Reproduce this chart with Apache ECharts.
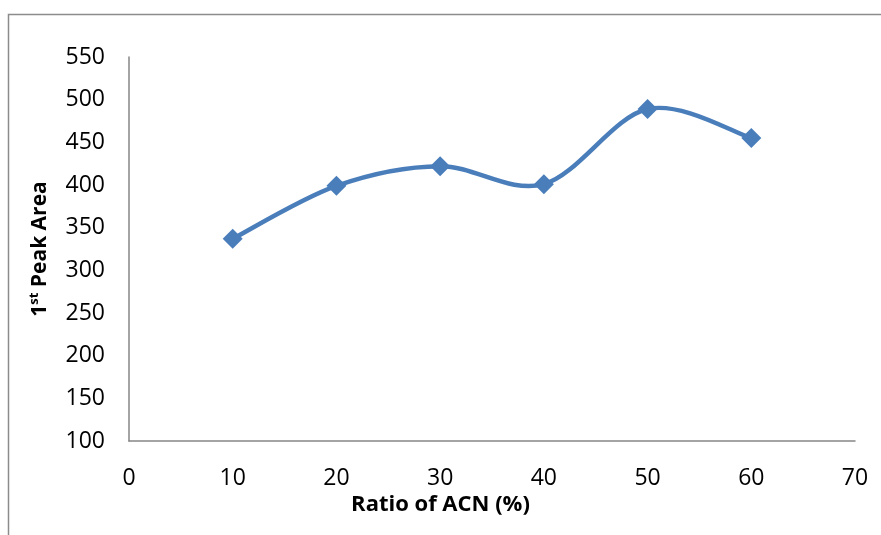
<!DOCTYPE html>
<html>
<head>
<meta charset="utf-8">
<script src="https://cdn.jsdelivr.net/npm/echarts@6/dist/echarts.min.js"></script>
<style>
html,body{margin:0;padding:0;background:#fff;}
#chart{width:881px;height:535px;}
</style>
</head>
<body>
<div id="chart"></div>
<script>
const ratioACN = [10, 20, 30, 40, 50, 60];
const peakArea = [337, 399, 422, 401, 489, 455];
const xTicks = [0, 10, 20, 30, 40, 50, 60, 70];
const yTicks = [100, 150, 200, 250, 300, 350, 400, 450, 500, 550];

const FONT = '"Open Sans", sans-serif';
const COLOR = '#4a7ebb';
const points = ratioACN.map((x, i) => [x, peakArea[i]]);

// Spreadsheet-style smoothed segment (Catmull-Rom as cubic Bezier) between data points i and i+1
function renderSegment(params, api) {
  const i = params.dataIndex;
  const n = ratioACN.length;
  if (i >= n - 1) return null;
  const c = j => {
    const k = Math.max(0, Math.min(n - 1, j));
    return api.coord([ratioACN[k], peakArea[k]]);
  };
  const p0 = c(i - 1), p1 = c(i), p2 = c(i + 1), p3 = c(i + 2);
  const t = 1 / 6;
  return {
    type: 'bezierCurve',
    shape: {
      x1: p1[0], y1: p1[1],
      cpx1: p1[0] + (p2[0] - p0[0]) * t, cpy1: p1[1] + (p2[1] - p0[1]) * t,
      cpx2: p2[0] - (p3[0] - p1[0]) * t, cpy2: p2[1] - (p3[1] - p1[1]) * t,
      x2: p2[0], y2: p2[1]
    },
    style: { stroke: COLOR, lineWidth: 4.5, fill: null, lineCap: 'round' },
    silent: true
  };
}

const chart = echarts.init(document.getElementById('chart'));
chart.setOption({
  backgroundColor: '#fff',
  animation: false,
  grid: { left: 129, right: 26, top: 57, bottom: 94 },
  graphic: [
    { type: 'rect', shape: { x: 8.5, y: 14.5, width: 1000, height: 1000 },
      style: { fill: 'none', stroke: '#8c8c8c', lineWidth: 1.5 }, silent: true, z: -1 },
    { type: 'text', left: 'center', top: 494,
      style: { text: 'Ratio of ACN (%)', font: 'bold 22px ' + FONT, fill: '#000' } }
  ],
  xAxis: {
    type: 'value', min: xTicks[0], max: xTicks[xTicks.length - 1], interval: 10,
    axisLine: { show: true, lineStyle: { color: '#868686', width: 1.5 } },
    axisTick: { show: false },
    splitLine: { show: false },
    axisLabel: { color: '#000', fontSize: 23, fontFamily: FONT, margin: 26 }
  },
  yAxis: {
    type: 'value', min: yTicks[0], max: yTicks[yTicks.length - 1], interval: 50,
    axisLine: { show: true, lineStyle: { color: '#868686', width: 1.5 } },
    axisTick: { show: false },
    splitLine: { show: false },
    axisLabel: { color: '#000', fontSize: 23, fontFamily: FONT, margin: 24 },
    name: '{n|1}{s|st}{n| Peak Area}',
    nameLocation: 'middle', nameRotate: 90, nameGap: 78,
    nameTextStyle: {
      rich: {
        n: { fontSize: 21, fontWeight: 'bold', fontFamily: FONT, color: '#000', verticalAlign: 'bottom' },
        s: { fontSize: 13, fontWeight: 'bold', fontFamily: FONT, color: '#000', verticalAlign: 'top', padding: [0, 0, 10, 0] }
      }
    }
  },
  series: [
    {
      type: 'custom',
      data: points,
      renderItem: renderSegment,
      z: 2
    },
    {
      type: 'line',
      data: points,
      symbol: 'diamond',
      symbolSize: 20,
      lineStyle: { width: 0, opacity: 0 },
      itemStyle: { color: COLOR },
      z: 3
    }
  ]
});
</script>
</body>
</html>
